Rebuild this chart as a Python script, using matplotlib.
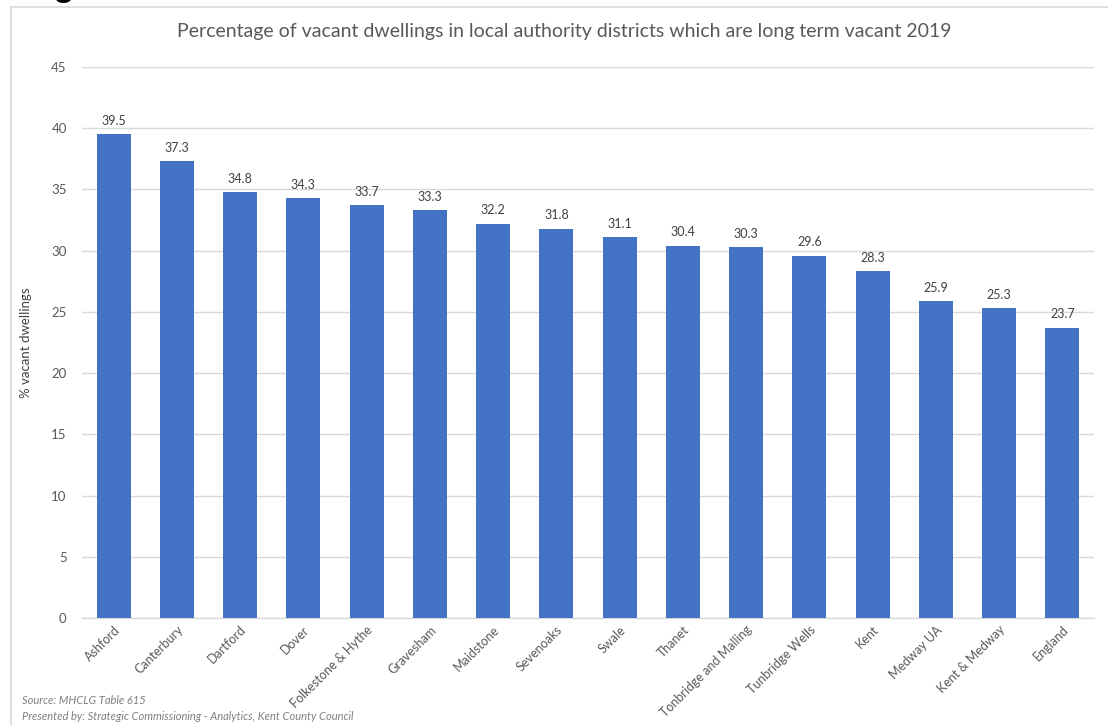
import matplotlib
matplotlib.use("Agg")
import matplotlib.pyplot as plt

districts = ["Ashford", "Canterbury", "Dartford", "Dover", "Folkestone & Hythe",
             "Gravesham", "Maidstone", "Sevenoaks", "Swale", "Thanet",
             "Tonbridge and Malling", "Tunbridge Wells", "Kent", "Medway UA",
             "Kent & Medway", "England"]
long_term_pct = [39.5, 37.3, 34.8, 34.3, 33.7, 33.3, 32.2, 31.8, 31.1, 30.4,
                 30.3, 29.6, 28.3, 25.9, 25.3, 23.7]
y_ticks = [0, 5, 10, 15, 20, 25, 30, 35, 40, 45]

plt.rcParams["font.family"] = ["Lato", "DejaVu Sans"]
text_grey = "#595959"
bar_blue = "#4472C4"

W, H = 1108, 725
fig = plt.figure(figsize=(W / 100, H / 100), dpi=100)

# Chart frame (top and left edges visible)
fig.add_artist(plt.Line2D([11 / W, 11 / W], [0, 1 - 7 / H], color="#d9d9d9", lw=1.2))
fig.add_artist(plt.Line2D([11 / W, 1], [1 - 7 / H, 1 - 7 / H], color="#d9d9d9", lw=1.2))

# Heading above the chart, running off the top of the page
fig.text(0.0, 1.0 + 2 / H, "Long term vacant", fontsize=24, fontweight="bold",
         color="black", ha="left", va="baseline")

ax_left, ax_right = 82, 1094
ax_bottom, ax_top = 618, 67
ax = fig.add_axes([ax_left / W, 1 - ax_bottom / H,
                   (ax_right - ax_left) / W, (ax_bottom - ax_top) / H])

x = range(len(districts))
ax.bar(x, long_term_pct, width=0.54, color=bar_blue, zorder=3)
for xi, v in zip(x, long_term_pct):
    ax.text(xi, v + 0.6, f"{v:.1f}", ha="center", va="bottom",
            fontsize=9, color="#404040")

ax.set_xlim(-0.5, len(districts) - 0.5)
ax.set_ylim(0, 45)
ax.set_yticks(y_ticks)
ax.set_yticklabels([str(t) for t in y_ticks], fontsize=9.5, color=text_grey)
ax.yaxis.grid(True, color="#d9d9d9", lw=1, zorder=0)
ax.tick_params(axis="y", length=0, pad=11)
ax.tick_params(axis="x", length=0, pad=4)
ax.set_xticks(list(x))
ax.set_xticklabels(districts, rotation=45, ha="right", rotation_mode="anchor",
                   fontsize=9, color=text_grey)
for s in ["top", "right", "left"]:
    ax.spines[s].set_visible(False)
ax.spines["bottom"].set_color("#d9d9d9")
ax.spines["bottom"].set_linewidth(1)

ax.set_ylabel("% vacant dwellings", fontsize=9.5, color="#404040", labelpad=14)

fig.text(564 / W, 1 - 31 / H,
         "Percentage of vacant dwellings in local authority districts which are long term vacant 2019",
         ha="center", va="center", fontsize=14, color=text_grey)

fig.text(22 / W, 1 - 701 / H, "Source: MHCLG Table 615", fontsize=8,
         style="italic", color="#7f7f7f", ha="left", va="center")
fig.text(22 / W, 1 - 717 / H,
         "Presented by: Strategic Commissioning - Analytics, Kent County Council",
         fontsize=8, style="italic", color="#7f7f7f", ha="left", va="center")

fig.savefig("out.png", dpi=100)
